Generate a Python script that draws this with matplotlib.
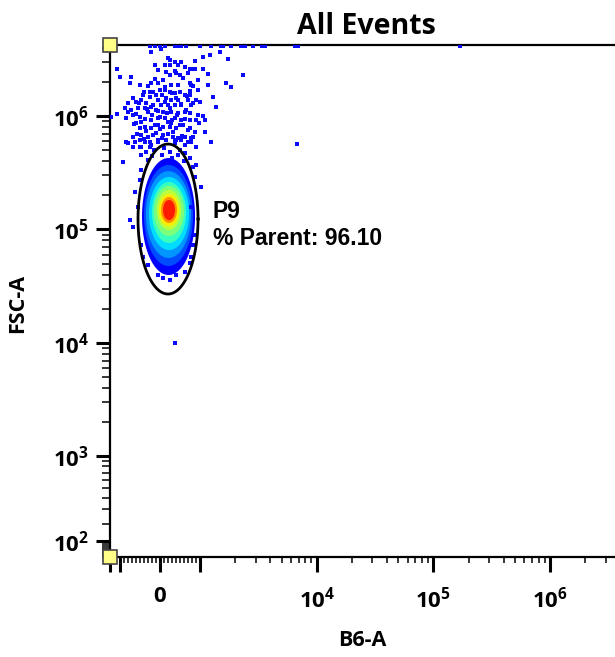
import numpy as np
import matplotlib
matplotlib.use("Agg")
import matplotlib.pyplot as plt
from matplotlib.ticker import FixedLocator, FixedFormatter

plt.rcParams["font.family"] = ["Open Sans", "DejaVu Sans"]
plt.rcParams["mathtext.fontset"] = "custom"
plt.rcParams["mathtext.rm"] = "Open Sans:bold"
plt.rcParams["mathtext.it"] = "Open Sans:bold"
plt.rcParams["mathtext.bf"] = "Open Sans:bold"

# ── Sparse events (B6-A, FSC-A) ──────────────────────────────────────────────
# events pinned at the FSC-A ceiling
top_b6 = [-250, -125, 0, 125, 375, 450, 525, 650, 1000, 1243, 1513, 1575,
          1844, 2245, 2430, 2850, 3400, 3610, 6520, 6910, 169000]
top_fsc = [4.1e6] * len(top_b6)

# debris / doublets above the main population
cloud_b6 = [-217, 33, 200, 117, 242, 367, 450, 533, 617, -133, 1061, 1211,
            1475, 1738, 2335, -1060, -1000, -717, -758, -508, -217, -50, -133,
            158, 242, 408, 492, 700, 825, 867, 1061, 1171, 950, 742, 783, 283,
            117, -258, -175, -425, -92, -8, 242, 367, 492, 617, 742, 950, 1171,
            1292, 1680, 1854, -675, -592, -800, -467, -342, -50, 158, 283, 450,
            700, 908, 992, 1379, -883, -800, -717, -550, -383, -217, 33, 200,
            367, 533, 783, -1060, -842, -675, -508, -300, -92, 75, 283, 450,
            617, 950, 1061, -1187, -592, -467, -217, -50, 117, 200, 367, 533,
            742, 908, 1097, -508, -383, -217, -50, 75, 242, 408, 575, 742, 867,
            1097, -675, -467, -300, -92, 75, 325, 450, 617, 825, -842, -633,
            -508, -258, -50, 158, 367, 533, 700, 1250, -675, -467, -258, 6740]
cloud_fsc = [3.69e6, 3.87e6, 3.22e6, 2.81e6, 2.81e6, 3.01e6, 2.81e6, 3.01e6,
             2.72e6, 2.81e6, 3.29e6, 3.44e6, 3.69e6, 3.16e6, 2.30e6, 2.58e6,
             2.19e6, 2.19e6, 1.96e6, 1.88e6, 1.94e6, 1.94e6, 2.10e6, 2.45e6,
             2.30e6, 2.38e6, 2.30e6, 2.40e6, 2.58e6, 2.58e6, 2.58e6, 2.34e6,
             2.07e6, 1.94e6, 1.88e6, 1.88e6, 1.69e6, 1.64e6, 1.64e6, 1.53e6,
             1.53e6, 1.69e6, 1.64e6, 1.58e6, 1.64e6, 1.53e6, 1.53e6, 1.69e6,
             1.88e6, 1.48e6, 1.96e6, 1.81e6, 1.43e6, 1.34e6, 1.29e6, 1.38e6,
             1.31e6, 1.38e6, 1.43e6, 1.38e6, 1.38e6, 1.38e6, 1.38e6, 1.34e6,
             1.21e6, 1.17e6, 1.09e6, 1.13e6, 1.17e6, 1.17e6, 1.21e6, 1.25e6,
             1.25e6, 1.25e6, 1.25e6, 1.25e6, 1.04e6, 9.55e5, 1.02e6, 9.86e5,
             1.09e6, 1.13e6, 1.09e6, 1.09e6, 1.06e6, 1.09e6, 1.02e6, 1.0e6,
             9.86e5, 8.63e5, 8.91e5, 9.22e5, 9.55e5, 9.55e5, 8.91e5, 9.55e5,
             9.22e5, 9.22e5, 9.22e5, 9.22e5, 7.80e5, 8.05e5, 7.80e5, 8.34e5,
             8.05e5, 8.05e5, 7.80e5, 8.34e5, 7.80e5, 7.28e5, 7.28e5, 6.58e5,
             6.81e5, 6.58e5, 7.05e5, 6.81e5, 6.58e5, 6.37e5, 6.58e5, 6.58e5,
             5.94e5, 5.94e5, 6.15e5, 5.94e5, 6.15e5, 6.15e5, 6.15e5, 6.15e5,
             5.94e5, 5.94e5, 5.37e5, 5.37e5, 5.37e5, 5.64e5]

# the busier middle of the debris cloud
halo_b6 = [-250, 50, 400, 675, -525, -175, 125, 525, 825, -325, -50, 250, 650,
           -600, -200, 175, 425, 750, -375, 0, 300, 625, -650, -125, 275, 500,
           975, -350, 0, 325, 700, -575, -175, 200, 550, -400, 50, 400, 775,
           -400, 0, 300, 750, -300, 125, 450, 825, 75, 575, -50, 375, 750,
           250, 875]
halo_fsc = [1.47e6, 1.52e6, 1.43e6, 1.49e6, 1.30e6, 1.26e6, 1.33e6, 1.28e6,
            1.31e6, 1.15e6, 1.11e6, 1.18e6, 1.13e6, 1.04e6, 1.01e6, 1.06e6,
            1.03e6, 1.07e6, 9.42e5, 9.7e5, 9.2e5, 9.5e5, 8.51e5, 8.3e5,
            8.7e5, 8.4e5, 8.6e5, 7.38e5, 7.6e5, 7.2e5, 7.5e5, 6.94e5,
            6.8e5, 7.0e5, 6.7e5, 6.27e5, 6.4e5, 6.2e5, 6.35e5, 1.63e6,
            1.68e6, 1.60e6, 1.66e6, 1.84e6, 1.80e6, 1.88e6, 1.82e6, 2.08e6,
            2.14e6, 2.54e6, 2.48e6, 2.60e6, 3.11e6, 3.05e6]

# scattered events hugging the dense core
fringe_b6 = [-800, -508, -383, -217, -50, 367, 617, 783, 908, -467, -300, 617,
             742, 825, -467, -508, 867, -550, 783, -150, 100, 250, 500, -200,
             50, 300, 450, -350, 600, -925, -633, -758, -675, 908, 1026,
             -50, 75, 242, 408, 617, 742, 783, -300, -425, -467, 825, 867, 375]
fringe_fsc = [5.74e5, 5.37e5, 5.94e5, 5.55e5, 5.94e5, 5.74e5, 5.55e5, 5.94e5,
              5.37e5, 4.53e5, 4.09e5, 4.69e5, 4.24e5, 3.57e5, 3.34e5, 2.73e5,
              2.92e5, 1.59e5, 1.59e5, 5.0e5, 5.2e5, 4.8e5, 5.0e5, 4.4e5, 4.5e5,
              4.3e5, 4.5e5, 4.8e5, 4.0e5, 3.95e5, 2.15e5, 1.21e5, 1.06e5,
              3.70e5, 2.38e5, 3.97e4, 3.72e4, 3.59e4, 3.97e4, 4.25e4, 5.04e4,
              5.77e4, 4.87e4, 5.77e4, 7.29e4, 7.29e4, 8.96e4, 1.0e4]

# ── Dense core: density bands (jet level, B6-A range, FSC-A range) ──────────
band_level = [0.12, 0.20, 0.27, 0.34, 0.42, 0.50, 0.58, 0.66, 0.76, 0.88]
band_b6_lo = [-450, -400, -350, -275, -200, -150, -75, -25, 25, 75]
band_b6_hi = [875, 825, 775, 725, 650, 600, 525, 475, 425, 375]
band_fsc_lo = [3.97e4, 4.77e4, 5.61e4, 6.59e4, 7.60e4, 8.77e4, 9.91e4,
               1.07e5, 1.14e5, 1.21e5]
band_fsc_hi = [4.26e5, 3.70e5, 3.27e5, 2.90e5, 2.62e5, 2.42e5, 2.23e5,
               2.05e5, 1.93e5, 1.82e5]

# ── Gate P9 ──────────────────────────────────────────────────────────────────
gate_name = "P9"
gate_pct_parent = 96.10
gate_b6 = (-550, 950)
gate_fsc = (2.70e4, 5.66e5)

# axis ranges and ticks
b6_lim = (-1218, 3.6e6)
fsc_lim = (19.4, 4.22e6)
b6_major = [-1218, -1000, 0, 1000, 1e4, 1e5, 1e6]
b6_major_labels = ["", "", r"$0$", "", r"$10^{4}$", r"$10^{5}$", r"$10^{6}$"]
fsc_major = [1e2, 1e3, 1e4, 1e5, 1e6]
fsc_major_labels = [r"$10^{2}$", r"$10^{3}$", r"$10^{4}$", r"$10^{5}$", r"$10^{6}$"]


# ── Axis transforms ──────────────────────────────────────────────────────────
LIN_SPAN = 0.343   # width (in decades) of the linear 0..1000 stretch on B6-A
FSC_W = 240.0      # arcsinh width for FSC-A


def b6_fwd(x):
    x = np.asarray(x, dtype=float)
    a = np.abs(x)
    return np.where(a <= 1000, x / 1000.0 * LIN_SPAN,
                    np.sign(x) * (LIN_SPAN + np.log10(np.maximum(a, 1000) / 1000.0)))


def b6_inv(u):
    u = np.asarray(u, dtype=float)
    a = np.abs(u)
    return np.where(a <= LIN_SPAN, u / LIN_SPAN * 1000.0,
                    np.sign(u) * 1000.0 * 10 ** (np.maximum(a, LIN_SPAN) - LIN_SPAN))


def fsc_fwd(y):
    return np.arcsinh(np.asarray(y, dtype=float) / FSC_W) / np.log(10)


def fsc_inv(v):
    return FSC_W * np.sinh(np.asarray(v, dtype=float) * np.log(10))


def ellipse_in_scale(x_rng, y_rng, n=240):
    """Ellipse that is round in axis (transformed) space, returned in data units."""
    t = np.linspace(0, 2 * np.pi, n)
    u0, u1 = b6_fwd(list(x_rng))
    v0, v1 = fsc_fwd(list(y_rng))
    u = 0.5 * (u0 + u1) + 0.5 * (u1 - u0) * np.cos(t)
    v = 0.5 * (v0 + v1) + 0.5 * (v1 - v0) * np.sin(t)
    return b6_inv(u), fsc_inv(v)


fig = plt.figure(figsize=(6.15, 6.57), dpi=100)
ax = fig.add_axes([110 / 615, 1 - 557 / 657, 505 / 615, 512 / 657])
ax.set_xscale("function", functions=(b6_fwd, b6_inv))
ax.set_yscale("function", functions=(fsc_fwd, fsc_inv))
ax.set_xlim(*b6_lim)
ax.set_ylim(*fsc_lim)

# density bands, outermost first
cmap = plt.cm.jet
for lvl, xl, xh, yl, yh in zip(band_level, band_b6_lo, band_b6_hi,
                               band_fsc_lo, band_fsc_hi):
    ex, ey = ellipse_in_scale((xl, xh), (yl, yh))
    ax.fill(ex, ey, color=cmap(lvl), lw=0, zorder=2)

# single events
dot_kw = dict(marker="s", s=5.5, c="#0a0aff", linewidths=0, zorder=3)
ax.scatter(cloud_b6, cloud_fsc, **dot_kw)
ax.scatter(halo_b6, halo_fsc, **dot_kw)
ax.scatter(fringe_b6, fringe_fsc, **dot_kw)
ax.scatter(top_b6, top_fsc, **dot_kw)

# gate outline and label
gx, gy = ellipse_in_scale(gate_b6, gate_fsc)
ax.plot(gx, gy, color="black", lw=2.0, zorder=4)
ax.text(1290, 1.10e5, f"{gate_name}\n% Parent: {gate_pct_parent:.2f}",
        family=["Liberation Sans", "DejaVu Sans"], fontweight="bold",
        fontsize=16.5, ha="left", va="center", linespacing=1.25, zorder=5)

# ticks
ax.xaxis.set_major_locator(FixedLocator(b6_major))
ax.xaxis.set_major_formatter(FixedFormatter(b6_major_labels))
b6_minor = ([-v for v in range(100, 1000, 100)] + list(range(100, 1000, 100))
            + [m * 10 ** e for e in (3, 4, 5) for m in range(2, 10)] + [2e6, 3e6])
ax.xaxis.set_minor_locator(FixedLocator(b6_minor))
ax.yaxis.set_major_locator(FixedLocator(fsc_major))
ax.yaxis.set_major_formatter(FixedFormatter(fsc_major_labels))
fsc_minor = [m * 10 ** e for e in (1, 2, 3, 4, 5, 6) for m in range(2, 10)]
fsc_minor = [v for v in fsc_minor if fsc_lim[0] < v < fsc_lim[1]]
ax.yaxis.set_minor_locator(FixedLocator(fsc_minor))

ax.tick_params(axis="x", which="major", direction="out", length=11, width=2.2,
               pad=10, labelsize=16)
ax.tick_params(axis="x", which="minor", direction="out", length=4.5, width=1.1)
ax.tick_params(axis="y", which="major", direction="out", length=10, width=2.2,
               pad=5, labelsize=16)
ax.tick_params(axis="y", which="minor", direction="out", length=5.5, width=1.1)

for side in ("left", "bottom", "top"):
    ax.spines[side].set_linewidth(1.6)
ax.spines["right"].set_visible(False)

# gate handles on the left corners
for yy in (0, 1):
    ax.plot([0], [yy], transform=ax.transAxes, marker="s", markersize=10,
            mfc="#ffff88", mec="#444444", mew=1.2, clip_on=False, zorder=6)

fig.text(366 / 615, 1 - 27 / 657, "All Events", ha="center", va="center",
         fontsize=20.5, fontweight="bold")
fig.text(18 / 615, 1 - 303 / 657, "FSC-A", ha="center", va="center",
         rotation=90, fontsize=15.5, fontweight="bold")
fig.text(362 / 615, 1 - 641 / 657, "B6-A", ha="center", va="center",
         fontsize=15.5, fontweight="bold")

fig.savefig("out.png", dpi=100)
